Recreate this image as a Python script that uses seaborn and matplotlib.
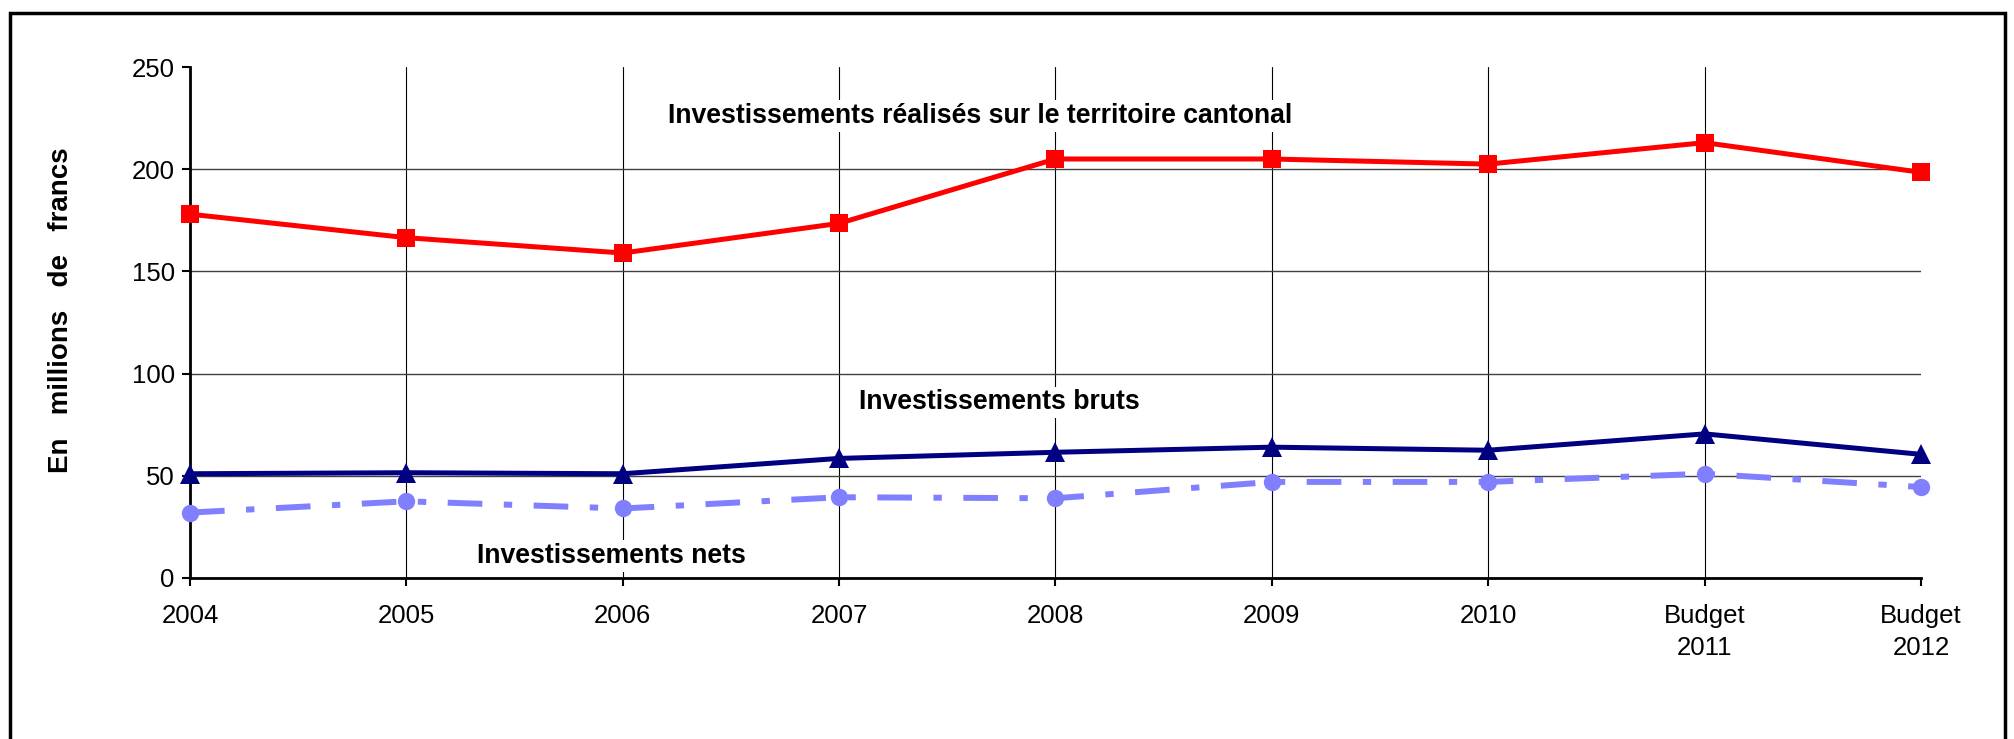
import pandas as pd
import seaborn as sns
import matplotlib.pyplot as plt
from matplotlib.patches import Rectangle

# Data (millions de francs)
years = ['2004', '2005', '2006', '2007', '2008', '2009', '2010', 'Budget\n2011', 'Budget\n2012']
territoire = [178, 166.5, 159, 173.5, 205, 205, 202.5, 213, 198.5]
bruts = [51, 51.5, 51, 58.5, 61.5, 64, 62.5, 70.5, 60.5]
nets = [32, 37.5, 34, 39.5, 39, 47, 47, 51, 44.5]
yticks = [0, 50, 100, 150, 200, 250]

sns.set_style('white')
plt.rcParams['font.family'] = ['Liberation Sans', 'DejaVu Sans']
plt.rcParams.update({'text.color': 'black', 'axes.labelcolor': 'black',
                     'xtick.color': 'black', 'ytick.color': 'black'})

df = pd.DataFrame({'pos': range(len(years)), 'territoire': territoire,
                   'bruts': bruts, 'nets': nets})

fig = plt.figure(figsize=(20.15, 7.39), dpi=100)
ax = fig.add_axes([0.0943, 0.2179, 0.8590, 0.6914])

# Lines
sns.lineplot(data=df, x='pos', y='territoire', ax=ax, color='#FF0000', lw=3.6,
             marker='s', markersize=13.5, markeredgewidth=0, clip_on=False, zorder=5)
sns.lineplot(data=df, x='pos', y='bruts', ax=ax, color='#000080', lw=3.6,
             marker='^', markersize=15, markeredgewidth=0, clip_on=False, zorder=5)
sns.lineplot(data=df, x='pos', y='nets', ax=ax, color='#8080FF', lw=4.3,
             marker='o', markersize=12.5, markeredgewidth=0, clip_on=False, zorder=4)
ax.lines[-1].set_dashes([5.8, 3.6, 1.4, 3.6])

# Axes and grid
ax.set_xlim(0, len(years) - 1)
ax.set_ylim(0, 250)
ax.set_xticks(range(len(years)))
ax.set_xticklabels(years, fontsize=18.5, linespacing=1.38)
ax.set_yticks(yticks)
ax.set_yticklabels([str(v) for v in yticks], fontsize=18.5)
ax.tick_params(axis='x', direction='out', length=6, width=1.5, colors='black', pad=13, bottom=True)
ax.tick_params(axis='y', direction='out', length=6, width=1.5, colors='black', pad=5, left=True)
ax.set_xlabel('')
ax.set_ylabel('En   millions   de   francs', fontsize=20, fontweight='bold', color='black')
ax.yaxis.set_label_coords(-0.067, 0.524)

ax.grid(axis='y', color='#404040', lw=1.0)
ax.grid(axis='x', color='black', lw=0.8)
ax.yaxis.get_gridlines()[-1].set_visible(False)
ax.xaxis.get_gridlines()[-1].set_visible(False)
ax.set_axisbelow(True)

for side in ['top', 'right']:
    ax.spines[side].set_visible(False)
for side in ['left', 'bottom']:
    ax.spines[side].set_color('black')
    ax.spines[side].set_linewidth(2)

# Series labels
lab = dict(fontsize=19.2, fontweight='bold', ha='center', va='center', zorder=3,
           color='black', bbox=dict(facecolor='white', edgecolor='none', pad=2))
ax.text(3.65, 226, 'Investissements réalisés sur le territoire cantonal', **lab)
ax.text(3.74, 86, 'Investissements bruts', **lab)
ax.text(1.95, 10.7, 'Investissements nets', **lab)

# Outer frame around the chart
fig.patches.append(Rectangle((10 / 2015, -0.1), 1995 / 2015, 1 - 13 / 739 + 0.1,
                             transform=fig.transFigure, fill=False, lw=2.5, ec='black'))

fig.savefig('out.png', dpi=100)
